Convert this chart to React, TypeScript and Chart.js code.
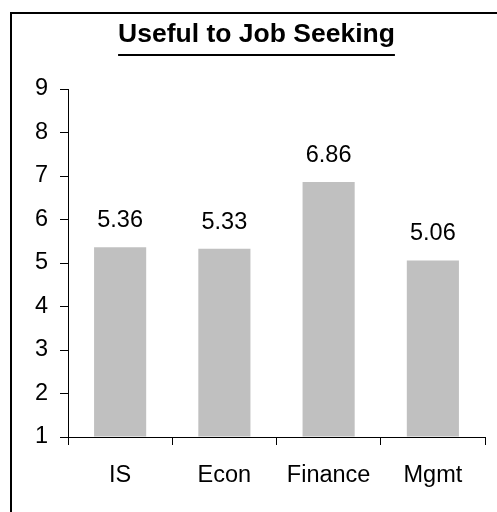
import React, { useEffect, useRef } from "react";
import { Chart, registerables } from "chart.js";

Chart.register(...registerables);

const TITLE = "Useful to Job Seeking";
const categories = ["IS", "Econ", "Finance", "Mgmt"];
const values = [5.36, 5.33, 6.86, 5.06];
const yMin = 1;
const yMax = 9;

const FONT = "'Liberation Sans', Arial, sans-serif";

const framePlugin = {
  id: "framePlugin",
  beforeDraw(chart: any) {
    const ctx = chart.ctx;
    ctx.save();
    ctx.fillStyle = "#ffffff";
    ctx.fillRect(0, 0, chart.width, chart.height);
    ctx.fillStyle = "#000000";
    ctx.fillRect(10, 12, chart.width - 10, 2);
    ctx.fillRect(10, 12, 2, chart.height - 12);
    // title
    ctx.font = `bold 26.5px ${FONT}`;
    ctx.textAlign = "center";
    ctx.textBaseline = "alphabetic";
    const cx = 256.5;
    ctx.fillText(TITLE, cx, 42);
    const w = ctx.measureText(TITLE).width;
    ctx.fillRect(cx - w / 2, 54, w, 2);
    ctx.restore();
  },
  afterDatasetsDraw(chart: any) {
    const ctx = chart.ctx;
    const meta = chart.getDatasetMeta(0);
    ctx.save();
    ctx.font = `23.5px ${FONT}`;
    ctx.fillStyle = "#000000";
    ctx.textAlign = "center";
    ctx.textBaseline = "alphabetic";
    meta.data.forEach((bar: any, i: number) => {
      ctx.fillText(values[i].toFixed(2), bar.x, bar.y - 20);
    });
    ctx.restore();
  },
};

export default function App() {
  const ref = useRef<HTMLCanvasElement>(null);
  useEffect(() => {
    if (!ref.current) return;
    const chart = new Chart(ref.current, {
      type: "bar",
      data: {
        labels: categories,
        datasets: [
          {
            data: values,
            backgroundColor: "#c0c0c0",
            borderWidth: 0,
            barPercentage: 0.5,
            categoryPercentage: 1.0,
            base: yMin,
          } as any,
        ],
      },
      options: {
        responsive: false,
        animation: false,
        devicePixelRatio: 1,
        layout: { padding: { top: 89, right: 12, left: 0, bottom: 0 } },
        plugins: {
          legend: { display: false },
          title: { display: false },
          tooltip: { enabled: false },
        },
        scales: {
          x: {
            offset: true,
            grid: {
              display: true,
              offset: true,
              drawOnChartArea: false,
              drawTicks: true,
              tickLength: 8,
              color: "#000000",
            },
            border: { display: true, color: "#000000", width: 1 },
            ticks: {
              color: "#000000",
              font: { family: FONT, size: 23.5 },
              padding: 16,
              maxRotation: 0,
            },
            afterFit(s: any) {
              s.height = 75;
            },
          },
          y: {
            min: yMin,
            max: yMax,
            grid: {
              display: true,
              drawOnChartArea: false,
              drawTicks: true,
              tickLength: 8,
              color: "#000000",
            },
            border: { display: true, color: "#000000", width: 1 },
            ticks: {
              stepSize: 1,
              color: "#000000",
              font: { family: FONT, size: 23.5 },
              padding: 12,
            },
            afterFit(s: any) {
              s.width = 68;
            },
          },
        },
      },
      plugins: [framePlugin],
    });
    return () => chart.destroy();
  }, []);
  return (
    <div style={{ position: "fixed", left: 0, top: 0, width: 497, height: 512 }}>
      <canvas ref={ref} width={497} height={512} style={{ width: 497, height: 512, display: "block" }} />
    </div>
  );
}
